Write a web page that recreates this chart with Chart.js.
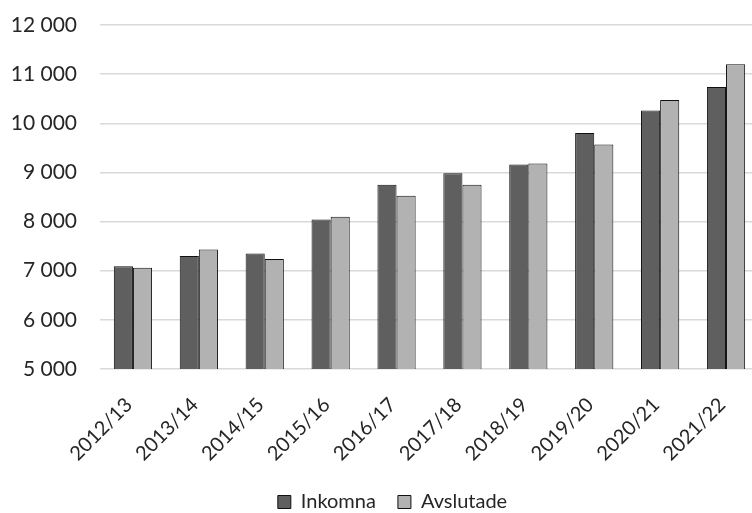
<!DOCTYPE html>
<html>
<head>
<meta charset="utf-8">
<script src="https://cdn.jsdelivr.net/npm/chart.js@4/dist/chart.umd.min.js"></script>
<style>
  html, body { margin: 0; padding: 0; background: #fff; overflow: hidden; }
  #wrap { position: relative; width: 759px; height: 522px; }
</style>
</head>
<body>
<div id="wrap"><canvas id="c"></canvas></div>
<script>
// Ärenden per verksamhetsår
const years = ['2012/13', '2013/14', '2014/15', '2015/16', '2016/17',
               '2017/18', '2018/19', '2019/20', '2020/21', '2021/22'];
const inkomna   = [7090, 7300, 7350, 8040, 8750, 8985, 9160, 9800, 10260, 10740];
const avslutade = [7060, 7430, 7240, 8100, 8525, 8750, 9180, 9570, 10475, 11200];
const yMin = 5000, yMax = 12000, yStep = 1000;

const textColor = '#262626';

function fmt(n) {
  return String(n).replace(/\B(?=(\d{3})+(?!\d))/g, ' ');
}

// nudge the legend block horizontally
const legendShift = {
  id: 'legendShift',
  afterLayout(chart, args, opts) {
    const lg = chart.legend;
    if (lg) { lg.left += opts.dx; lg.right += opts.dx; }
  }
};

new Chart(document.getElementById('c'), {
  type: 'bar',
  data: {
    labels: years,
    datasets: [
      { label: 'Inkomna', data: inkomna, backgroundColor: '#5f5f5f',
        borderColor: '#111', borderWidth: 1 },
      { label: 'Avslutade', data: avslutade, backgroundColor: '#b2b2b2',
        borderColor: '#111', borderWidth: 1 }
    ]
  },
  plugins: [legendShift],
  options: {
    responsive: true,
    maintainAspectRatio: false,
    animation: false,
    layout: { padding: { top: 25, right: 0, bottom: 0, left: 0 } },
    datasets: { bar: { categoryPercentage: 0.58, barPercentage: 1.0 } },
    scales: {
      x: {
        afterFit(s) { s.height = 101; },
        grid: { display: false },
        border: { display: false },
        ticks: {
          color: textColor, maxRotation: 45, minRotation: 45, padding: 16,
          labelOffset: -4,
          font: { family: 'Lato', size: 20 }
        }
      },
      y: {
        min: yMin, max: yMax,
        afterFit(s) { s.width = 100; },
        grid: { color: '#d9d9d9', lineWidth: 1.5, drawTicks: true, tickLength: 23,
                tickColor: 'rgba(0,0,0,0)' },
        border: { display: false },
        ticks: {
          stepSize: yStep, color: textColor, padding: 0,
          font: { family: 'Lato', size: 21 },
          callback: v => fmt(v)
        }
      }
    },
    plugins: {
      legendShift: { dx: 13 },
      tooltip: { enabled: false },
      legend: {
        position: 'bottom',
        labels: {
          color: textColor, boxWidth: 13, boxHeight: 13, padding: 22,
          font: { family: 'Lato', size: 20 }
        }
      }
    }
  }
});
</script>
</body>
</html>
